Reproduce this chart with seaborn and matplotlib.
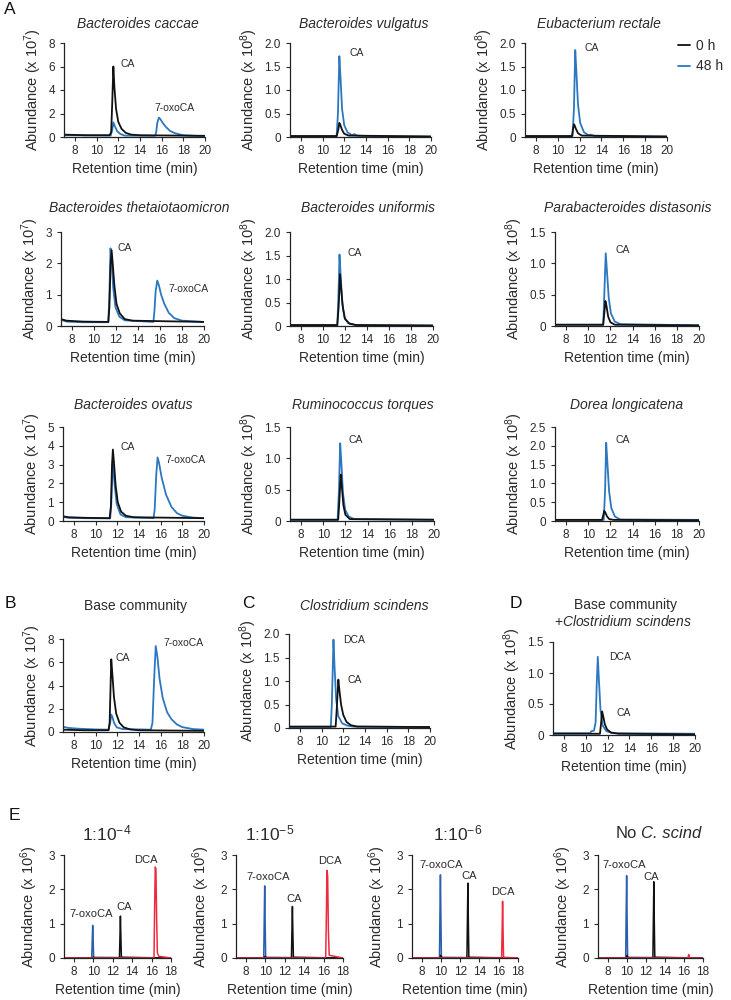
import matplotlib
matplotlib.use('Agg')
import matplotlib.pyplot as plt
import pandas as pd
import seaborn as sns

sns.set_theme(style='ticks')
plt.rcParams['font.family'] = ['Liberation Sans', 'DejaVu Sans']
plt.rcParams['mathtext.fontset'] = 'custom'
plt.rcParams['mathtext.rm'] = 'Liberation Sans'
plt.rcParams['mathtext.it'] = 'Liberation Sans:italic'
plt.rcParams['mathtext.bf'] = 'Liberation Sans:bold'

# ---------------- data (retention time in min, abundance in axis units) -------------
caccae_0h = [(7, 0.2), (9, 0.15), (11.2, 0.15), (11.35, 0.4), (11.45, 3.0), (11.55, 6.0), (11.65, 4.2), (11.8, 2.4),
             (12.0, 1.3), (12.3, 0.7), (12.7, 0.35), (13.2, 0.2), (14, 0.15), (20, 0.1)]
caccae_48h = [(7, 0.15), (11.3, 0.12), (11.45, 0.6), (11.55, 1.25), (11.7, 0.9), (11.9, 0.5), (12.2, 0.25), (12.6, 0.12),
              (15.4, 0.1), (15.5, 0.4), (15.6, 1.2), (15.75, 1.65), (15.9, 1.5), (16.1, 1.2), (16.4, 0.85), (16.8, 0.5),
              (17.3, 0.3), (18, 0.15), (19, 0.1), (20, 0.08)]
vulgatus_0h = [(7, 0.02), (11.3, 0.02), (11.45, 0.15), (11.55, 0.3), (11.65, 0.25), (11.8, 0.15), (12.0, 0.07),
               (12.4, 0.03), (20, 0.01)]
vulgatus_48h = [(7, 0.02), (11.3, 0.02), (11.42, 0.5), (11.55, 1.72), (11.65, 1.3), (11.8, 0.6), (12.0, 0.25),
                (12.3, 0.1), (12.7, 0.04), (12.95, 0.06), (13.2, 0.03), (14, 0.02), (20, 0.01)]
rectale_0h = [(7, 0.02), (11.3, 0.02), (11.42, 0.2), (11.5, 0.27), (11.65, 0.18), (11.85, 0.08), (12.2, 0.03), (20, 0.01)]
rectale_48h = [(7, 0.02), (11.35, 0.02), (11.48, 0.6), (11.6, 1.85), (11.7, 1.4), (11.85, 0.7), (12.05, 0.3),
               (12.4, 0.1), (12.8, 0.04), (13.0, 0.05), (13.4, 0.02), (20, 0.01)]
theta_0h = [(7, 0.22), (7.5, 0.17), (9, 0.14), (11.3, 0.13), (11.4, 0.6), (11.5, 1.9), (11.6, 2.42), (11.7, 2.0),
            (11.85, 1.3), (12.05, 0.7), (12.35, 0.4), (12.8, 0.22), (13.5, 0.17), (20, 0.13)]
theta_48h = [(7, 0.2), (7.5, 0.14), (9, 0.12), (11.3, 0.12), (11.4, 1.0), (11.5, 2.48), (11.6, 2.1), (11.75, 1.2),
             (11.95, 0.6), (12.3, 0.3), (12.8, 0.18), (15.4, 0.13), (15.5, 0.5), (15.6, 1.1), (15.75, 1.45), (15.9, 1.3),
             (16.1, 1.0), (16.4, 0.7), (16.8, 0.42), (17.3, 0.25), (18, 0.17), (20, 0.13)]
uniformis_0h = [(7, 0.02), (11.3, 0.02), (11.42, 0.4), (11.55, 1.1), (11.65, 0.8), (11.8, 0.4), (12.0, 0.15),
                (12.4, 0.05), (13, 0.02), (20, 0.01)]
uniformis_48h = [(7, 0.02), (11.3, 0.02), (11.4, 0.6), (11.5, 1.52), (11.6, 1.1), (11.75, 0.5), (11.95, 0.18),
                 (12.3, 0.06), (13, 0.02), (20, 0.01)]
distasonis_0h = [(7, 0.02), (11.35, 0.02), (11.45, 0.2), (11.55, 0.4), (11.65, 0.32), (11.8, 0.15), (12.0, 0.06),
                 (12.4, 0.02), (20, 0.01)]
distasonis_48h = [(7, 0.02), (11.35, 0.02), (11.45, 0.5), (11.58, 1.16), (11.7, 0.85), (11.85, 0.45), (12.05, 0.2),
                  (12.4, 0.07), (12.9, 0.03), (20, 0.01)]
ovatus_0h = [(7, 0.25), (7.5, 0.2), (9, 0.17), (11.3, 0.15), (11.42, 0.8), (11.52, 3.0), (11.6, 3.8), (11.7, 3.1),
             (11.85, 1.9), (12.05, 1.0), (12.35, 0.5), (12.8, 0.28), (13.5, 0.2), (20, 0.15)]
ovatus_48h = [(7, 0.22), (7.5, 0.17), (9, 0.15), (11.35, 0.14), (11.45, 0.9), (11.55, 2.6), (11.62, 3.0), (11.75, 2.0),
              (11.95, 0.9), (12.3, 0.35), (12.8, 0.2), (15.35, 0.15), (15.45, 0.6), (15.6, 2.5), (15.72, 3.38),
              (15.85, 3.1), (16.1, 2.3), (16.5, 1.4), (17, 0.75), (17.5, 0.42), (18, 0.28), (19, 0.18), (20, 0.15)]
torques_0h = [(7, 0.02), (11.35, 0.02), (11.45, 0.3), (11.58, 0.74), (11.68, 0.55), (11.82, 0.25), (12.0, 0.1),
              (12.4, 0.03), (20, 0.02)]
torques_48h = [(7, 0.02), (11.3, 0.02), (11.42, 0.5), (11.53, 1.24), (11.63, 0.95), (11.78, 0.45), (11.98, 0.18),
               (12.3, 0.07), (12.8, 0.03), (20, 0.02)]
longicatena_0h = [(7, 0.03), (11.25, 0.03), (11.35, 0.15), (11.45, 0.27), (11.55, 0.22), (11.7, 0.12), (11.9, 0.05),
                  (12.3, 0.03), (20, 0.02)]
longicatena_48h = [(7, 0.03), (11.4, 0.03), (11.52, 0.8), (11.62, 2.08), (11.72, 1.6), (11.88, 0.8), (12.08, 0.35),
                   (12.4, 0.12), (12.9, 0.04), (20, 0.03)]
base_0h = [(7, 0.2), (9, 0.15), (11.2, 0.15), (11.3, 0.8), (11.4, 4.5), (11.45, 6.25), (11.55, 5.0), (11.7, 3.0),
           (11.9, 1.6), (12.2, 0.8), (12.6, 0.4), (13.2, 0.22), (14, 0.15), (20, 0.1)]
base_48h = [(7, 0.45), (7.5, 0.35), (8.5, 0.28), (10, 0.22), (11.2, 0.2), (11.35, 0.8), (11.45, 1.5), (11.55, 1.3),
            (11.7, 0.8), (11.95, 0.4), (12.5, 0.25), (15.1, 0.2), (15.25, 0.8), (15.4, 4.5), (15.55, 7.4), (15.7, 6.5),
            (15.9, 4.6), (16.2, 2.9), (16.6, 1.7), (17.0, 1.1), (17.5, 0.65), (18, 0.42), (19, 0.25), (20, 0.2)]
scindens_0h = [(7, 0.03), (11.3, 0.03), (11.4, 0.4), (11.55, 1.03), (11.65, 0.8), (11.8, 0.5), (12.0, 0.28),
               (12.3, 0.13), (12.7, 0.06), (13.3, 0.03), (20, 0.02)]
scindens_48h = [(7, 0.02), (10.85, 0.02), (10.95, 0.5), (11.1, 1.88), (11.2, 1.3), (11.35, 0.6), (11.55, 0.25),
                (11.9, 0.1), (12.4, 0.05), (13, 0.03), (20, 0.02)]
combo_0h = [(7, 0.02), (11.3, 0.02), (11.38, 0.15), (11.5, 0.38), (11.6, 0.3), (11.75, 0.17), (11.95, 0.09),
            (12.3, 0.04), (13, 0.02), (20, 0.01)]
combo_48h = [(7, 0.03), (10.4, 0.03), (10.5, 0.06), (10.75, 0.07), (10.9, 0.2), (11.0, 0.8), (11.1, 1.26), (11.2, 0.9),
             (11.35, 0.4), (11.55, 0.15), (11.9, 0.06), (12.5, 0.03), (20, 0.02)]

e4_oxo = [(7, 0), (9.85, 0), (9.9, 0.5), (9.95, 0.95), (10.0, 0.5), (10.05, 0.02), (18, 0)]
e4_ca = [(7, 0), (9.9, 0), (10.0, 0.03), (10.1, 0), (12.7, 0), (12.75, 0.6), (12.8, 1.22), (12.85, 0.6), (12.9, 0.02), (18, 0)]
e4_dca = [(7, 0), (16.25, 0), (16.32, 1.5), (16.38, 2.65), (16.45, 2.6), (16.52, 1.2), (16.6, 0.15), (16.75, 0.05), (18, 0)]
e5_oxo = [(7, 0), (9.85, 0), (9.9, 1.1), (9.95, 2.1), (10.0, 1.0), (10.05, 0.02), (18, 0)]
e5_ca = [(7, 0), (9.9, 0), (10.0, 0.05), (10.1, 0), (12.7, 0), (12.75, 0.8), (12.8, 1.5), (12.85, 0.7), (12.9, 0.02), (18, 0)]
e5_dca = [(7, 0), (16.22, 0), (16.3, 1.4), (16.35, 2.55), (16.42, 2.4), (16.5, 0.8), (16.58, 0.08), (18, 0)]
e6_oxo = [(7, 0), (9.85, 0), (9.9, 1.3), (9.95, 2.42), (10.0, 1.2), (10.05, 0.02), (18, 0)]
e6_ca = [(7, 0), (9.9, 0), (10.0, 0.08), (10.1, 0), (12.7, 0), (12.75, 1.1), (12.8, 2.18), (12.85, 1.0), (12.9, 0.02), (18, 0)]
e6_dca = [(7, 0), (16.3, 0), (16.36, 0.9), (16.4, 1.65), (16.45, 0.8), (16.5, 0.02), (18, 0)]
eno_oxo = [(7, 0), (9.9, 0), (9.95, 1.3), (10.0, 2.4), (10.05, 1.2), (10.1, 0.02), (18, 0)]
eno_ca = [(7, 0), (9.95, 0), (10.05, 0.08), (10.15, 0), (12.75, 0), (12.8, 1.1), (12.85, 2.22), (12.9, 1.0), (12.95, 0.02), (18, 0)]
eno_dca = [(7, 0), (16.42, 0), (16.47, 0.06), (16.5, 0.1), (16.55, 0.05), (16.6, 0), (18, 0)]

ticks_8 = [0, 2, 4, 6, 8]
ticks_3 = [0, 1, 2, 3]
ticks_5 = [0, 1, 2, 3, 4, 5]
ticks_2p0 = [0, 0.5, 1.0, 1.5, 2.0]
ticks_1p5 = [0, 0.5, 1.0, 1.5]
ticks_2p5 = [0, 0.5, 1.0, 1.5, 2.0, 2.5]

BLACK = '#111111'
BLUE = '#2c77c0'
E_BLUE = '#2a5fae'
E_RED = '#ee2a3d'
TXT = '#2b2b2b'

W, H = 731, 1000
fig = plt.figure(figsize=(W / 100, H / 100), dpi=100)


def rect(l, t, r, b):
    return [l / W, 1 - b / H, (r - l) / W, (b - t) / H]


def fmt(v):
    return '0' if v == 0 else (str(v) if isinstance(v, int) else f'{v:.1f}')


def style(ax, xmax, xticks, yticks, exp, ylab_pad=3, fs=10, yfs=10.5):
    ax.set_xlim(7, xmax)
    ax.set_ylim(0, yticks[-1])
    ax.set_xticks(xticks)
    ax.set_xticklabels([str(t) for t in xticks])
    ax.set_yticks(yticks)
    ax.set_yticklabels([fmt(t) for t in yticks])
    sns.despine(ax=ax)
    for s in ('left', 'bottom'):
        ax.spines[s].set_color('#222222')
        ax.spines[s].set_linewidth(0.9)
    ax.tick_params(direction='out', length=3, width=0.8, labelsize=8.5, colors=TXT, pad=2.5)
    ax.tick_params(axis='y', pad=3.5)
    ax.set_xlabel('Retention time (min)', fontsize=fs, color=TXT, labelpad=4)
    ax.set_ylabel('Abundance (x 10$^{%d}$)' % exp, fontsize=yfs, color=TXT, labelpad=ylab_pad)


def draw(ax, traces, palette, legend=False, lw=1.3):
    rows = []
    for name, pts in traces:
        for x, y in pts:
            rows.append((name, x, y))
    df = pd.DataFrame(rows, columns=['series', 'time', 'abundance'])
    order = [n for n, _ in traces]
    sns.lineplot(data=df, x='time', y='abundance', hue='series', hue_order=order, palette=palette,
                 estimator=None, sort=False, linewidth=lw, ax=ax, legend=legend)


pal_ab = {'48 h': BLUE, '0 h': BLACK}
pal_e = {'7-oxoCA': E_BLUE, 'CA': BLACK, 'DCA': E_RED}

# panels: (traces, rect, yticks, exponent, title, title_xy, annotations)
panels_ab = [
    ([('48 h', caccae_48h), ('0 h', caccae_0h)], (64, 43, 205, 137), ticks_8, 7,
     'Bacteroides caccae', (138, 24), [('CA', 12.2, 6.2), ('7-oxoCA', 15.3, 2.45)]),
    ([('48 h', vulgatus_48h), ('0 h', vulgatus_0h)], (290, 43, 431, 137), ticks_2p0, 8,
     'Bacteroides vulgatus', (364, 24), [('CA', 12.5, 1.79)]),
    ([('48 h', rectale_48h), ('0 h', rectale_0h)], (525, 43, 667, 137), ticks_2p0, 8,
     'Eubacterium rectale', (599, 24), [('CA', 12.45, 1.9)]),
    ([('48 h', theta_48h), ('0 h', theta_0h)], (61, 232, 204, 326), ticks_3, 7,
     'Bacteroides thetaiotaomicron', (139, 208), [('CA', 12.1, 2.5), ('7-oxoCA', 16.8, 1.18)]),
    ([('48 h', uniformis_48h), ('0 h', uniformis_0h)], (290, 232, 433, 326), ticks_2p0, 8,
     'Bacteroides uniformis', (368, 208), [('CA', 12.2, 1.56)]),
    ([('48 h', distasonis_48h), ('0 h', distasonis_0h)], (555, 232, 699, 326), ticks_1p5, 8,
     'Parabacteroides distasonis', (628, 208), [('CA', 12.45, 1.22)]),
    ([('48 h', ovatus_48h), ('0 h', ovatus_0h)], (63, 427, 204, 521), ticks_5, 7,
     'Bacteroides ovatus', (133, 405), [('CA', 12.3, 3.94), ('7-oxoCA', 16.4, 3.24)]),
    ([('48 h', torques_48h), ('0 h', torques_0h)], (290, 427, 434, 521), ticks_1p5, 8,
     'Ruminococcus torques', (363, 405), [('CA', 12.3, 1.30)]),
    ([('48 h', longicatena_48h), ('0 h', longicatena_0h)], (555, 427, 699, 521), ticks_2p5, 8,
     'Dorea longicatena', (627, 405), [('CA', 12.45, 2.15)]),
    ([('48 h', base_48h), ('0 h', base_0h)], (63, 639, 204, 732), ticks_8, 7,
     None, None, [('CA', 11.85, 6.37), ('7-oxoCA', 16.25, 7.65)]),
    ([('48 h', scindens_48h), ('0 h', scindens_0h)], (289, 634, 430, 728), ticks_2p0, 8,
     'Clostridium scindens', (364, 606), [('DCA', 12.0, 1.87), ('CA', 12.35, 1.02)]),
    ([('48 h', combo_48h), ('0 h', combo_0h)], (553, 642, 695, 735), ticks_1p5, 8,
     None, None, [('DCA', 12.1, 1.26), ('CA', 12.8, 0.35)]),
]

for i, (traces, r, yt, exp, title, txy, ann) in enumerate(panels_ab):
    ax = fig.add_axes(rect(*r))
    draw(ax, traces, pal_ab, legend=(i == 2))
    style(ax, 20, list(range(8, 21, 2)), yt, exp)
    for lab, x, y in ann:
        ax.text(x, y, lab, fontsize=7.5, color=TXT, ha='left', va='center')
    if title:
        fig.text(txy[0] / W, 1 - txy[1] / H, title, fontsize=10, style='italic', color=TXT, ha='center', va='center')
    if i == 2:
        h, l = ax.get_legend_handles_labels()
        ax.legend(h[::-1], l[::-1], loc='upper left', bbox_to_anchor=(1.035, 1.1), frameon=False,
                  handlelength=0.9, handletextpad=0.4, labelspacing=0.45, fontsize=10, labelcolor=TXT,
                  borderaxespad=0.2, borderpad=0.2)

fig.text(135 / W, 1 - 606 / H, 'Base community', fontsize=10, color=TXT, ha='center', va='center')
fig.text(625 / W, 1 - 605 / H, 'Base community', fontsize=10, color=TXT, ha='center', va='center')
fig.text(623 / W, 1 - 622 / H, '+$\\mathit{Clostridium}$ $\\mathit{scindens}$', fontsize=10, color=TXT,
         ha='center', va='center')

panels_e = [
    ([('7-oxoCA', e4_oxo), ('CA', e4_ca), ('DCA', e4_dca)], (64, 855, 171, 958), '1:10$^{-4}$', 107,
     [('7-oxoCA', 9.8, 1.28), ('CA', 13.2, 1.49), ('DCA', 15.4, 2.85)]),
    ([('7-oxoCA', e5_oxo), ('CA', e5_ca), ('DCA', e5_dca)], (236, 855, 343, 958), '1:10$^{-5}$', 270,
     [('7-oxoCA', 10.3, 2.36), ('CA', 13.0, 1.72), ('DCA', 16.7, 2.83)]),
    ([('7-oxoCA', e6_oxo), ('CA', e6_ca), ('DCA', e6_dca)], (412, 855, 518, 958), '1:10$^{-6}$', 458,
     [('7-oxoCA', 9.99, 2.71), ('CA', 12.94, 2.39), ('DCA', 16.4, 1.92)]),
    ([('7-oxoCA', eno_oxo), ('CA', eno_ca), ('DCA', eno_dca)], (598, 855, 703, 958), None, 653,
     [('7-oxoCA', 9.7, 2.7), ('CA', 12.6, 2.36)]),
]
for traces, r, title, tx, ann in panels_e:
    ax = fig.add_axes(rect(*r))
    draw(ax, traces, pal_e, lw=1.1)
    style(ax, 18, list(range(8, 19, 2)), ticks_3, 6, ylab_pad=6, fs=10, yfs=10.5)
    for lab, x, y in ann:
        ax.text(x, y, lab, fontsize=8, color=TXT, ha='center', va='center')
    if title:
        fig.text(tx / W, 1 - 833 / H, title, fontsize=12.5, color=TXT, ha='center', va='center')

fig.text(637 / W, 1 - 833 / H, 'No', fontsize=12, color=TXT, ha='right', va='center')
fig.text(641 / W, 1 - 833 / H, 'C. scind', fontsize=12, style='italic', color=TXT, ha='left', va='center')

for lab, x, y in [('A', 10, 10), ('B', 10, 603), ('C', 248, 603), ('D', 516, 603), ('E', 14, 815)]:
    fig.text(x / W, 1 - y / H, lab, fontsize=12.5, color='#111111', ha='center', va='center')

fig.savefig('out.png', dpi=100)
